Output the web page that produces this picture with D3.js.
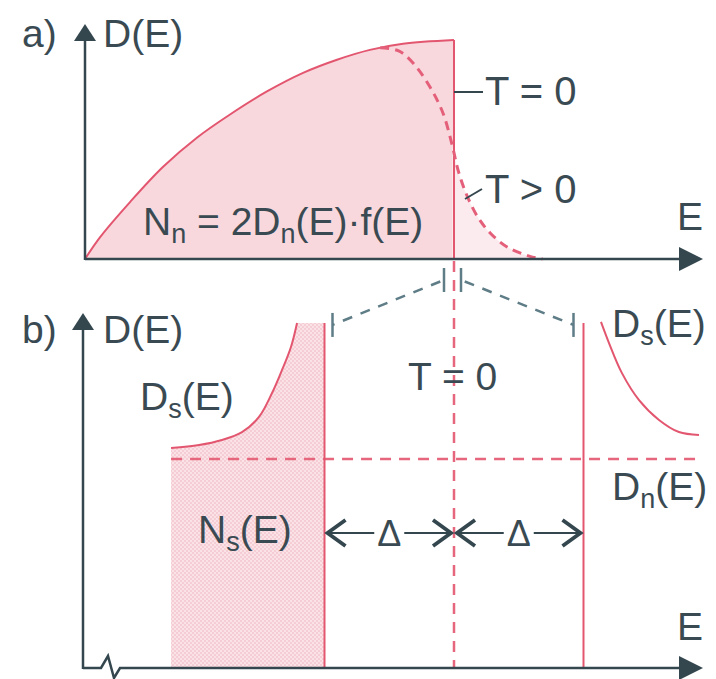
<!DOCTYPE html>
<html>
<head>
<meta charset="utf-8">
<script src="https://cdn.jsdelivr.net/npm/d3@7"></script>
<style>
  html, body { margin: 0; padding: 0; background: #fff; }
  svg { display: block; }
  text { font-family: "Liberation Sans", Arial, sans-serif; fill: #3a4a52; }
</style>
</head>
<body>
<svg id="chart" width="716" height="679"></svg>
<script>
// (a) normal metal: density of states D(E), E in units of E_F
const normalE = [0, 0.041, 0.122, 0.211, 0.304, 0.393, 0.493, 0.591, 0.683, 0.772, 0.862, 1.0];
const normalD = [0, 0.10, 0.26, 0.42, 0.555, 0.66, 0.765, 0.85, 0.91, 0.955, 0.983, 1.0];
// occupied states at T > 0 (D·f)
const warmE = [0.80, 0.85, 0.889, 0.935, 0.970, 0.995, 1.012, 1.035, 1.065, 1.098, 1.144, 1.206, 1.24];
const warmD = [0.965, 0.95, 0.895, 0.785, 0.667, 0.52, 0.40, 0.29, 0.19, 0.119, 0.055, 0.012, 0];
const fermiE = 1.0;

// (b) superconductor: E measured from E_F in units of the gap Δ, D in units of D_n
const gapLeftE = [-2.185, -1.969, -1.792, -1.637, -1.506, -1.405, -1.328, -1.259, -1.212];
const gapLeftD = [1.053, 1.067, 1.091, 1.129, 1.201, 1.316, 1.426, 1.536, 1.651];
const gapRightE = [1.135, 1.197, 1.297, 1.429, 1.583, 1.737, 1.892];
const gapRightD = [1.656, 1.555, 1.411, 1.282, 1.187, 1.129, 1.115];
const gapEdges = [-1, 1];
const edgeD = 1.651;
const normalLevelD = 1.0;
const deltaArrowD = 0.646;

const svg = d3.select("#chart");
const AXIS = "#34474f", RED = "#e3566f", FILL = "#f9d8dd", GREY = "#5f7d87";

// scales
const xT = d3.scaleLinear().domain([0, 1]).range([85, 454]);
const yT = d3.scaleLinear().domain([0, 1]).range([259, 40]);
const xB = d3.scaleLinear().domain([0, 1]).range([454, 583.5]);
const yB = d3.scaleLinear().domain([0, 1]).range([668, 459]);

// halftone texture for the superconducting fill
const defs = svg.append("defs");
const pat = defs.append("pattern").attr("id", "dots").attr("patternUnits", "userSpaceOnUse")
  .attr("width", 4).attr("height", 4);
pat.append("rect").attr("width", 4).attr("height", 4).attr("fill", "#fbe2e6");
pat.append("circle").attr("cx", 1).attr("cy", 1).attr("r", 0.9).attr("fill", "#f3c3cb");
pat.append("circle").attr("cx", 3).attr("cy", 3).attr("r", 0.9).attr("fill", "#f3c3cb");

function arrowUp(x, yTip) {
  svg.append("path").attr("d", `M${x},${yTip} L${x - 11},${yTip + 17} L${x + 11},${yTip + 17} Z`).attr("fill", AXIS);
}
function arrowRight(xTip, y) {
  svg.append("path").attr("d", `M${xTip},${y} L${xTip - 24},${y - 12} L${xTip - 24},${y + 12} Z`).attr("fill", AXIS);
}

const smooth = d3.curveCatmullRom.alpha(0.5);

// ---------- panel (a) ----------
const ptsNormal = normalE.map((e, i) => [e, normalD[i]]);
const ptsWarm = warmE.map((e, i) => [e, warmD[i]]);
const lineT = d3.line().x(d => xT(d[0])).y(d => yT(d[1])).curve(smooth);
const areaT = d3.area().x(d => xT(d[0])).y0(yT(0)).y1(d => yT(d[1])).curve(smooth);

svg.append("path").attr("d", areaT(ptsNormal)).attr("fill", FILL);
svg.append("path").attr("d", areaT(ptsWarm.filter(d => d[0] >= 0.995))).attr("fill", "#fcebee");
svg.append("path").attr("d", lineT(ptsNormal)).attr("fill", "none").attr("stroke", RED).attr("stroke-width", 2);
svg.append("line").attr("x1", xT(fermiE)).attr("x2", xT(fermiE)).attr("y1", yT(1)).attr("y2", yT(0))
  .attr("stroke", RED).attr("stroke-width", 2);
svg.append("path").attr("d", lineT(ptsWarm)).attr("fill", "none").attr("stroke", "#e4607a")
  .attr("stroke-width", 3).attr("stroke-dasharray", "9 6");

// axes (a)
svg.append("line").attr("x1", xT(0)).attr("x2", 690).attr("y1", yT(0)).attr("y2", yT(0)).attr("stroke", AXIS).attr("stroke-width", 2.5);
svg.append("line").attr("x1", xT(0)).attr("x2", xT(0)).attr("y1", yT(0) + 1).attr("y2", 36).attr("stroke", AXIS).attr("stroke-width", 2.5);
arrowUp(xT(0), 24);
arrowRight(703, yT(0));

svg.append("text").attr("x", 22).attr("y", 47).attr("font-size", 39).text("a)");
svg.append("text").attr("x", 103).attr("y", 47).attr("font-size", 39).text("D(E)");
svg.append("text").attr("x", 677).attr("y", 230).attr("font-size", 39).text("E");

// leader lines and temperature labels
svg.append("line").attr("x1", xT(fermiE)).attr("x2", xT(fermiE) + 29).attr("y1", 92).attr("y2", 92).attr("stroke", AXIS).attr("stroke-width", 2);
svg.append("text").attr("x", 485).attr("y", 105).attr("font-size", 40).text("T = 0");
svg.append("line").attr("x1", 465).attr("x2", 482).attr("y1", 199).attr("y2", 189).attr("stroke", AXIS).attr("stroke-width", 2);
svg.append("text").attr("x", 485).attr("y", 203).attr("font-size", 40).text("T > 0");

const nn = svg.append("text").attr("x", 143).attr("y", 235).attr("font-size", 39);
nn.append("tspan").text("N");
nn.append("tspan").attr("font-size", 27).attr("dy", 8).text("n");
nn.append("tspan").attr("dy", -8).text(" = 2D");
nn.append("tspan").attr("font-size", 27).attr("dy", 8).text("n");
nn.append("tspan").attr("dy", -8).text("(E)·f(E)");

// ---------- panel (b) ----------
const ptsLeft = gapLeftE.map((e, i) => [e, gapLeftD[i]]);
const ptsRight = gapRightE.map((e, i) => [e, gapRightD[i]]);
const lineB = d3.line().x(d => xB(d[0])).y(d => yB(d[1])).curve(smooth);
const areaB = d3.area().x(d => xB(d[0])).y0(yB(0)).y1(d => yB(d[1])).curve(d3.curveLinear);

// occupied quasiparticle states below the gap
const fillPts = ptsLeft.concat([[gapEdges[0], edgeD]]);
svg.append("path").attr("d", areaB(fillPts)).attr("fill", "url(#dots)");
// follow the curved edge exactly for the top of the fill
svg.append("path").attr("d", d3.area().x(d => xB(d[0])).y0(yB(0)).y1(d => yB(d[1])).curve(smooth)(ptsLeft))
  .attr("fill", "url(#dots)");

// normal-state level D_n
svg.append("line").attr("x1", xB(gapLeftE[0])).attr("x2", 701).attr("y1", yB(normalLevelD)).attr("y2", yB(normalLevelD))
  .attr("stroke", "#e6677d").attr("stroke-width", 2.5).attr("stroke-dasharray", "11 8");

// E_F marker through both panels
svg.append("line").attr("x1", xB(0)).attr("x2", xB(0)).attr("y1", yT(0) + 2).attr("y2", yB(0))
  .attr("stroke", "#e6677d").attr("stroke-width", 2.5).attr("stroke-dasharray", "11 8");

// gap edges
gapEdges.forEach(e => {
  svg.append("line").attr("x1", xB(e)).attr("x2", xB(e)).attr("y1", yB(edgeD)).attr("y2", yB(0))
    .attr("stroke", RED).attr("stroke-width", 2);
});
svg.append("path").attr("d", lineB(ptsLeft)).attr("fill", "none").attr("stroke", RED).attr("stroke-width", 2);
svg.append("path").attr("d", lineB(ptsRight)).attr("fill", "none").attr("stroke", RED).attr("stroke-width", 2);

// grey brackets from E_F in (a) to the gap edges in (b)
const brTop = yT(0) + 21, brBot = yB(edgeD) + 2;
[[-1, xB(0) - 10, xB(gapEdges[0]) + 8], [1, xB(0) + 7, xB(gapEdges[1]) - 10]].forEach(([s, xa, xb]) => {
  svg.append("line").attr("x1", xa).attr("x2", xa).attr("y1", brTop - 12).attr("y2", brTop + 12).attr("stroke", GREY).attr("stroke-width", 2.5);
  svg.append("line").attr("x1", xb).attr("x2", xb).attr("y1", brBot - 12).attr("y2", brBot + 12).attr("stroke", GREY).attr("stroke-width", 2.5);
  svg.append("line").attr("x1", xa).attr("x2", xb).attr("y1", brTop).attr("y2", brBot)
    .attr("stroke", GREY).attr("stroke-width", 2.5).attr("stroke-dasharray", "10 9").attr("stroke-dashoffset", -4);
});

// Δ arrows
const ya = yB(deltaArrowD);
[[gapEdges[0], 0], [0, gapEdges[1]]].forEach(([e0, e1]) => {
  const x0 = xB(e0) + 1, x1 = xB(e1) - 1, xm = (x0 + x1) / 2;
  svg.append("line").attr("x1", x0 + 2).attr("x2", xm - 15).attr("y1", ya).attr("y2", ya).attr("stroke", AXIS).attr("stroke-width", 2);
  svg.append("line").attr("x1", xm + 15).attr("x2", x1 - 2).attr("y1", ya).attr("y2", ya).attr("stroke", AXIS).attr("stroke-width", 2);
  svg.append("path").attr("d", `M${x0 + 20},${ya - 13} L${x0 + 2},${ya} L${x0 + 20},${ya + 13}`)
    .attr("fill", "none").attr("stroke", AXIS).attr("stroke-width", 3.8);
  svg.append("path").attr("d", `M${x1 - 20},${ya - 13} L${x1 - 2},${ya} L${x1 - 20},${ya + 13}`)
    .attr("fill", "none").attr("stroke", AXIS).attr("stroke-width", 3.8);
  svg.append("text").attr("x", xm).attr("y", ya + 13).attr("text-anchor", "middle").attr("font-size", 36).text("Δ");
});

// axes (b) with a break on the energy axis
const x0B = 83;
svg.append("line").attr("x1", x0B).attr("x2", x0B).attr("y1", yB(0) + 1).attr("y2", 325).attr("stroke", AXIS).attr("stroke-width", 2.5);
svg.append("path").attr("d", `M${x0B},${yB(0)} L101,${yB(0)} L108,${yB(0) - 12} L114,${yB(0) + 10} L120,${yB(0)} L690,${yB(0)}`)
  .attr("fill", "none").attr("stroke", AXIS).attr("stroke-width", 2.5).attr("stroke-linejoin", "miter");
arrowUp(x0B, 313);
arrowRight(703, yB(0));

svg.append("text").attr("x", 22).attr("y", 343).attr("font-size", 39).text("b)");
svg.append("text").attr("x", 103).attr("y", 343).attr("font-size", 39).text("D(E)");
svg.append("text").attr("x", 677).attr("y", 640).attr("font-size", 39).text("E");
svg.append("text").attr("x", 408).attr("y", 390).attr("font-size", 39).text("T = 0");

function subLabel(x, y, main, sub, rest) {
  const t = svg.append("text").attr("x", x).attr("y", y).attr("font-size", 39);
  t.append("tspan").text(main);
  t.append("tspan").attr("font-size", 27).attr("dy", 8).text(sub);
  t.append("tspan").attr("dy", -8).text(rest);
}
subLabel(140, 410, "D", "s", "(E)");
subLabel(612, 337, "D", "s", "(E)");
subLabel(612, 500, "D", "n", "(E)");
subLabel(198, 543, "N", "s", "(E)");
</script>
</body>
</html>
